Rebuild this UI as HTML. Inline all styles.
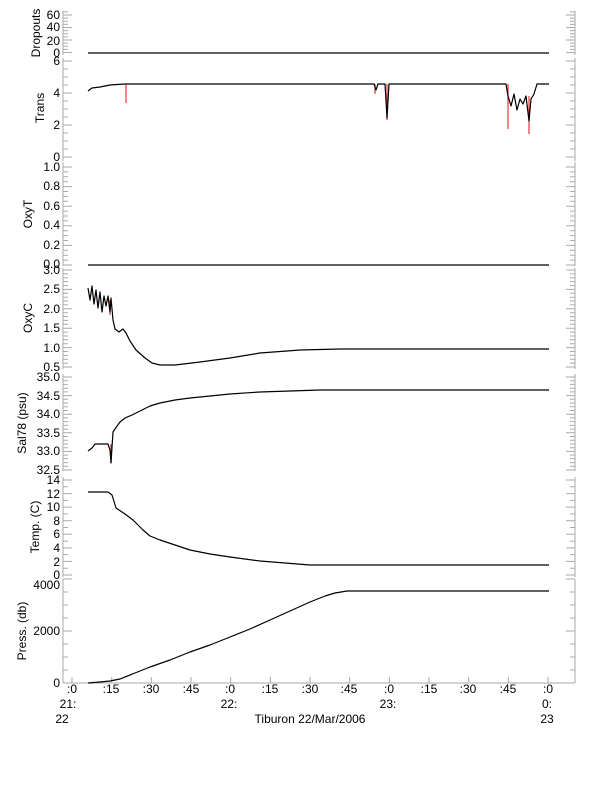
<!DOCTYPE html>
<html><head><meta charset="utf-8"><style>
body{margin:0;background:#fff}
svg{display:block;font-family:"Liberation Sans",sans-serif;font-size:12px}
</style></head><body>
<svg id="s" width="612" height="785" viewBox="0 0 612 785" xmlns="http://www.w3.org/2000/svg">
<rect width="612" height="785" fill="#fff"/>
<g id="ax" stroke="#aaa" stroke-width="1" fill="none"></g>
<g fill="#000" text-anchor="end">
<text x="60" y="19">60</text><text x="60" y="31">40</text><text x="60" y="45">20</text><text x="60" y="57">0</text>
<text x="60" y="65">6</text><text x="60" y="97">4</text><text x="60" y="129">2</text><text x="60" y="161">0</text>
<text x="60" y="171">1.0</text><text x="60" y="190">0.8</text><text x="60" y="210">0.6</text><text x="60" y="229">0.4</text><text x="60" y="249">0.2</text><text x="60" y="268">0.0</text>
<text x="60" y="274">3.0</text><text x="60" y="293">2.5</text><text x="60" y="313">2.0</text><text x="60" y="332">1.5</text><text x="60" y="352">1.0</text><text x="60" y="371">0.5</text>
<text x="60" y="381">35.0</text><text x="60" y="400">34.5</text><text x="60" y="418">34.0</text><text x="60" y="437">33.5</text><text x="60" y="455">33.0</text><text x="60" y="474">32.5</text>
<text x="60" y="484">14</text><text x="60" y="498">12</text><text x="60" y="511">10</text><text x="60" y="525">8</text><text x="60" y="538">6</text><text x="60" y="552">4</text><text x="60" y="566">2</text><text x="60" y="579">0</text>
<text x="60" y="589">4000</text><text x="60" y="635">2000</text><text x="60" y="687">0</text>
</g>
<g fill="#000" text-anchor="middle">
<text transform="translate(40,33) rotate(-90)">Dropouts</text>
<text transform="translate(44,108) rotate(-90)">Trans</text>
<text transform="translate(32,214) rotate(-90)">OxyT</text>
<text transform="translate(32,318) rotate(-90)">OxyC</text>
<text transform="translate(26,423) rotate(-90)">Sal78 (psu)</text>
<text transform="translate(39,527) rotate(-90)">Temp. (C)</text>
<text transform="translate(26,631) rotate(-90)">Press. (db)</text>
<text x="72" y="693">:0</text><text x="111" y="693">:15</text><text x="151" y="693">:30</text><text x="191" y="693">:45</text>
<text x="230" y="693">:0</text><text x="270" y="693">:15</text><text x="310" y="693">:30</text><text x="349" y="693">:45</text>
<text x="389" y="693">:0</text><text x="429" y="693">:15</text><text x="468" y="693">:30</text><text x="508" y="693">:45</text><text x="548" y="693">:0</text>
<text x="68" y="708">21:</text><text x="229" y="708">22:</text><text x="388" y="708">23:</text><text x="547" y="708">0:</text>
<text x="62" y="723">22</text><text x="310" y="723">Tiburon 22/Mar/2006</text><text x="547" y="723">23</text>
</g>
<g fill="none" stroke-width="1.2" stroke-linejoin="round">
<path d="M88 53H549" stroke="#000"/>
<path d="M126 84V103M375 84V94M387 84V120M508 84V129M529 96V134M111 444V463M110 300V315" stroke="#e33"/>
<path d="M88 91L92 88L100 87L110 85L125 84H374L376 90L378 84H385L387 118L389 84H506L508 96L511 106L514 94L517 110L520 99L523 104L526 96L529 121L531 99L534 94L537 84H549" stroke="#000"/>
<path d="M88 265H549" stroke="#000"/>
<path d="M88 288L90 300L92 286L94 304L96 290L98 308L100 292L102 312L104 296L106 306L108 296L110 312L111 298L113 320L115 329L119 332L123 329L126 333L130 341L136 350L145 358L152 363L160 365L175 365L200 362L230 358L260 353L300 350L340 349L549 349" stroke="#000"/>
<path d="M88 451L92 448L95 444L108 444L110 450L111 463L113 432L115 429L120 422L125 418L132 415L140 411L150 406L160 403L175 400L190 398L210 396L230 394L260 392L290 391L320 390L549 390" stroke="#000"/>
<path d="M88 492L108 492L112 495L116 508L125 514L133 520L143 530L150 536L160 540L175 545L190 550L210 554L230 557L260 561L285 563L310 565L549 565" stroke="#000"/>
<path d="M88 683L100 682L110 681L120 679L135 673L150 667L170 660L190 652L210 645L230 637L250 629L270 620L290 611L310 602L325 596L335 593L347 591L549 591" stroke="#000"/>
</g>
</svg>
<script>
var ax=document.getElementById('ax'),d='';
function P(t,b,v0,px,lo,hi,maj,mn){
 d+='M63 '+t+'V'+b+'M575 '+t+'V'+b;
 for(var v=lo;v<=hi+1e-9;v+=mn){var y=(v0-v*px).toFixed(1);var big=Math.abs(v/maj-Math.round(v/maj))<1e-6;var L=big?9:5;
 if(y<t-0.5||y>b+0.5)continue;
 d+='M63 '+y+'h'+L+'M575 '+y+'h-'+L;}
}
P(11,55,52.5,0.625,0,65,20,5);
P(58,161,157,16,0,6,2,0.5);
P(162,266,265,98,0,1,0.2,0.05);
P(268,369,270+3*38.8,38.8,0.5,3,0.5,0.1);
P(374,471,377+35*37.2,37.2,32.5,35,0.5,0.1);
P(477,577,575,6.786,0,14,2,1);
P(579,683,683,0.026,0,4000,2000,500);
d+='M63 683H575';
for(var i=0;i<=12;i++){var x=(72+i*39.67).toFixed(1);d+='M'+x+' 683v-6';}
var p=document.createElementNS('http://www.w3.org/2000/svg','path');p.setAttribute('d',d);ax.appendChild(p);
</script>
</body></html>
